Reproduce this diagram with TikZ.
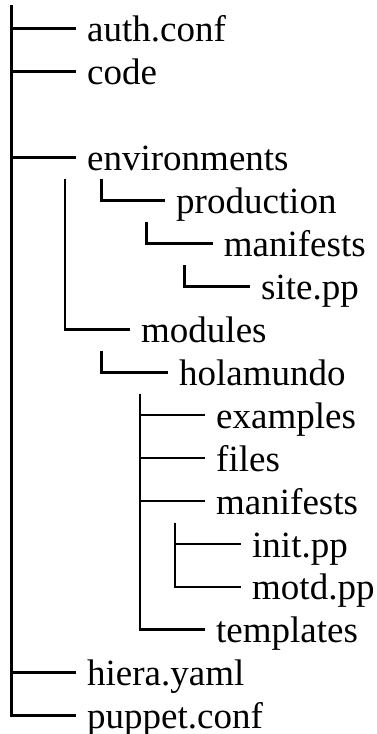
\documentclass[tikz,border=0pt]{standalone}
\usepackage{fontspec}
\setmainfont{Liberation Serif}[Ligatures=CommonOff]

\begin{document}
\begin{tikzpicture}[x=1pt,y=-1pt,
    entry/.style={anchor=west, inner xsep=11pt, inner ysep=0pt,
        text height=34.5pt, text depth=8.5pt, font=\fontsize{37}{43}\selectfont},
    branch/.style={line width=2.7pt}]
    \useasboundingbox (0,0) rectangle (376,734);

    % Top level
    \coordinate (root) at (11.3,5);
    \node[entry] (auth) at (76,28.8) {auth.conf};
    \node[entry] (code) at (76,71.7) {code};
    \node[entry] (env) at (76,157.5) {environments};
    \node[entry] (hiera) at (76,672.8) {hiera.yaml};
    \node[entry] (puppet) at (76,715.7) {puppet.conf};
    \draw[branch] (root) |- (auth.west);
    \draw[branch] (root) |- (code.west);
    \draw[branch] (root) |- (env.west);
    \draw[branch] (root) |- (hiera.west);
    \draw[branch] (root) |- (puppet.west);

    % Environments
    \coordinate (envprod) at (101.5,179);
    \coordinate (envmod) at (65,179);
    \node[entry] (prod) at (165,200.4) {production};
    \node[entry] (prodman) at (212.7,243.3) {manifests};
    \node[entry] (site) at (250,286.3) {site.pp};
    \node[entry] (mod) at (130,329.2) {modules};
    \draw[branch] (envprod) |- (prod.west);
    \draw[branch] (envmod) |- (mod.west);
    \coordinate (prodtop) at (146.7,221.9);
    \coordinate (mantop) at (184.3,264.8);
    \draw[branch] (prodtop) |- (prodman.west);
    \draw[branch] (mantop) |- (site.west);

    % Modules
    \coordinate (modtop) at (101.7,350.7);
    \node[entry] (hola) at (168,372.2) {holamundo};
    \draw[branch] (modtop) |- (hola.west);

    % Holamundo
    \coordinate (holatop) at (140,393.6);
    \node[entry] (ex) at (205,415.1) {examples};
    \node[entry] (files) at (205,458) {files};
    \node[entry] (holaman) at (205,501) {manifests};
    \node[entry] (tmpl) at (205,629.8) {templates};
    \draw[branch] (holatop) |- (ex.west);
    \draw[branch] (holatop) |- (files.west);
    \draw[branch] (holatop) |- (holaman.west);
    \draw[branch] (holatop) |- (tmpl.west);

    % Manifests
    \coordinate (holamantop) at (175,522.5);
    \node[entry] (init) at (241,544) {init.pp};
    \node[entry] (motd) at (241,586.9) {motd.pp};
    \draw[branch] (holamantop) |- (init.west);
    \draw[branch] (holamantop) |- (motd.west);
\end{tikzpicture}
\end{document}
